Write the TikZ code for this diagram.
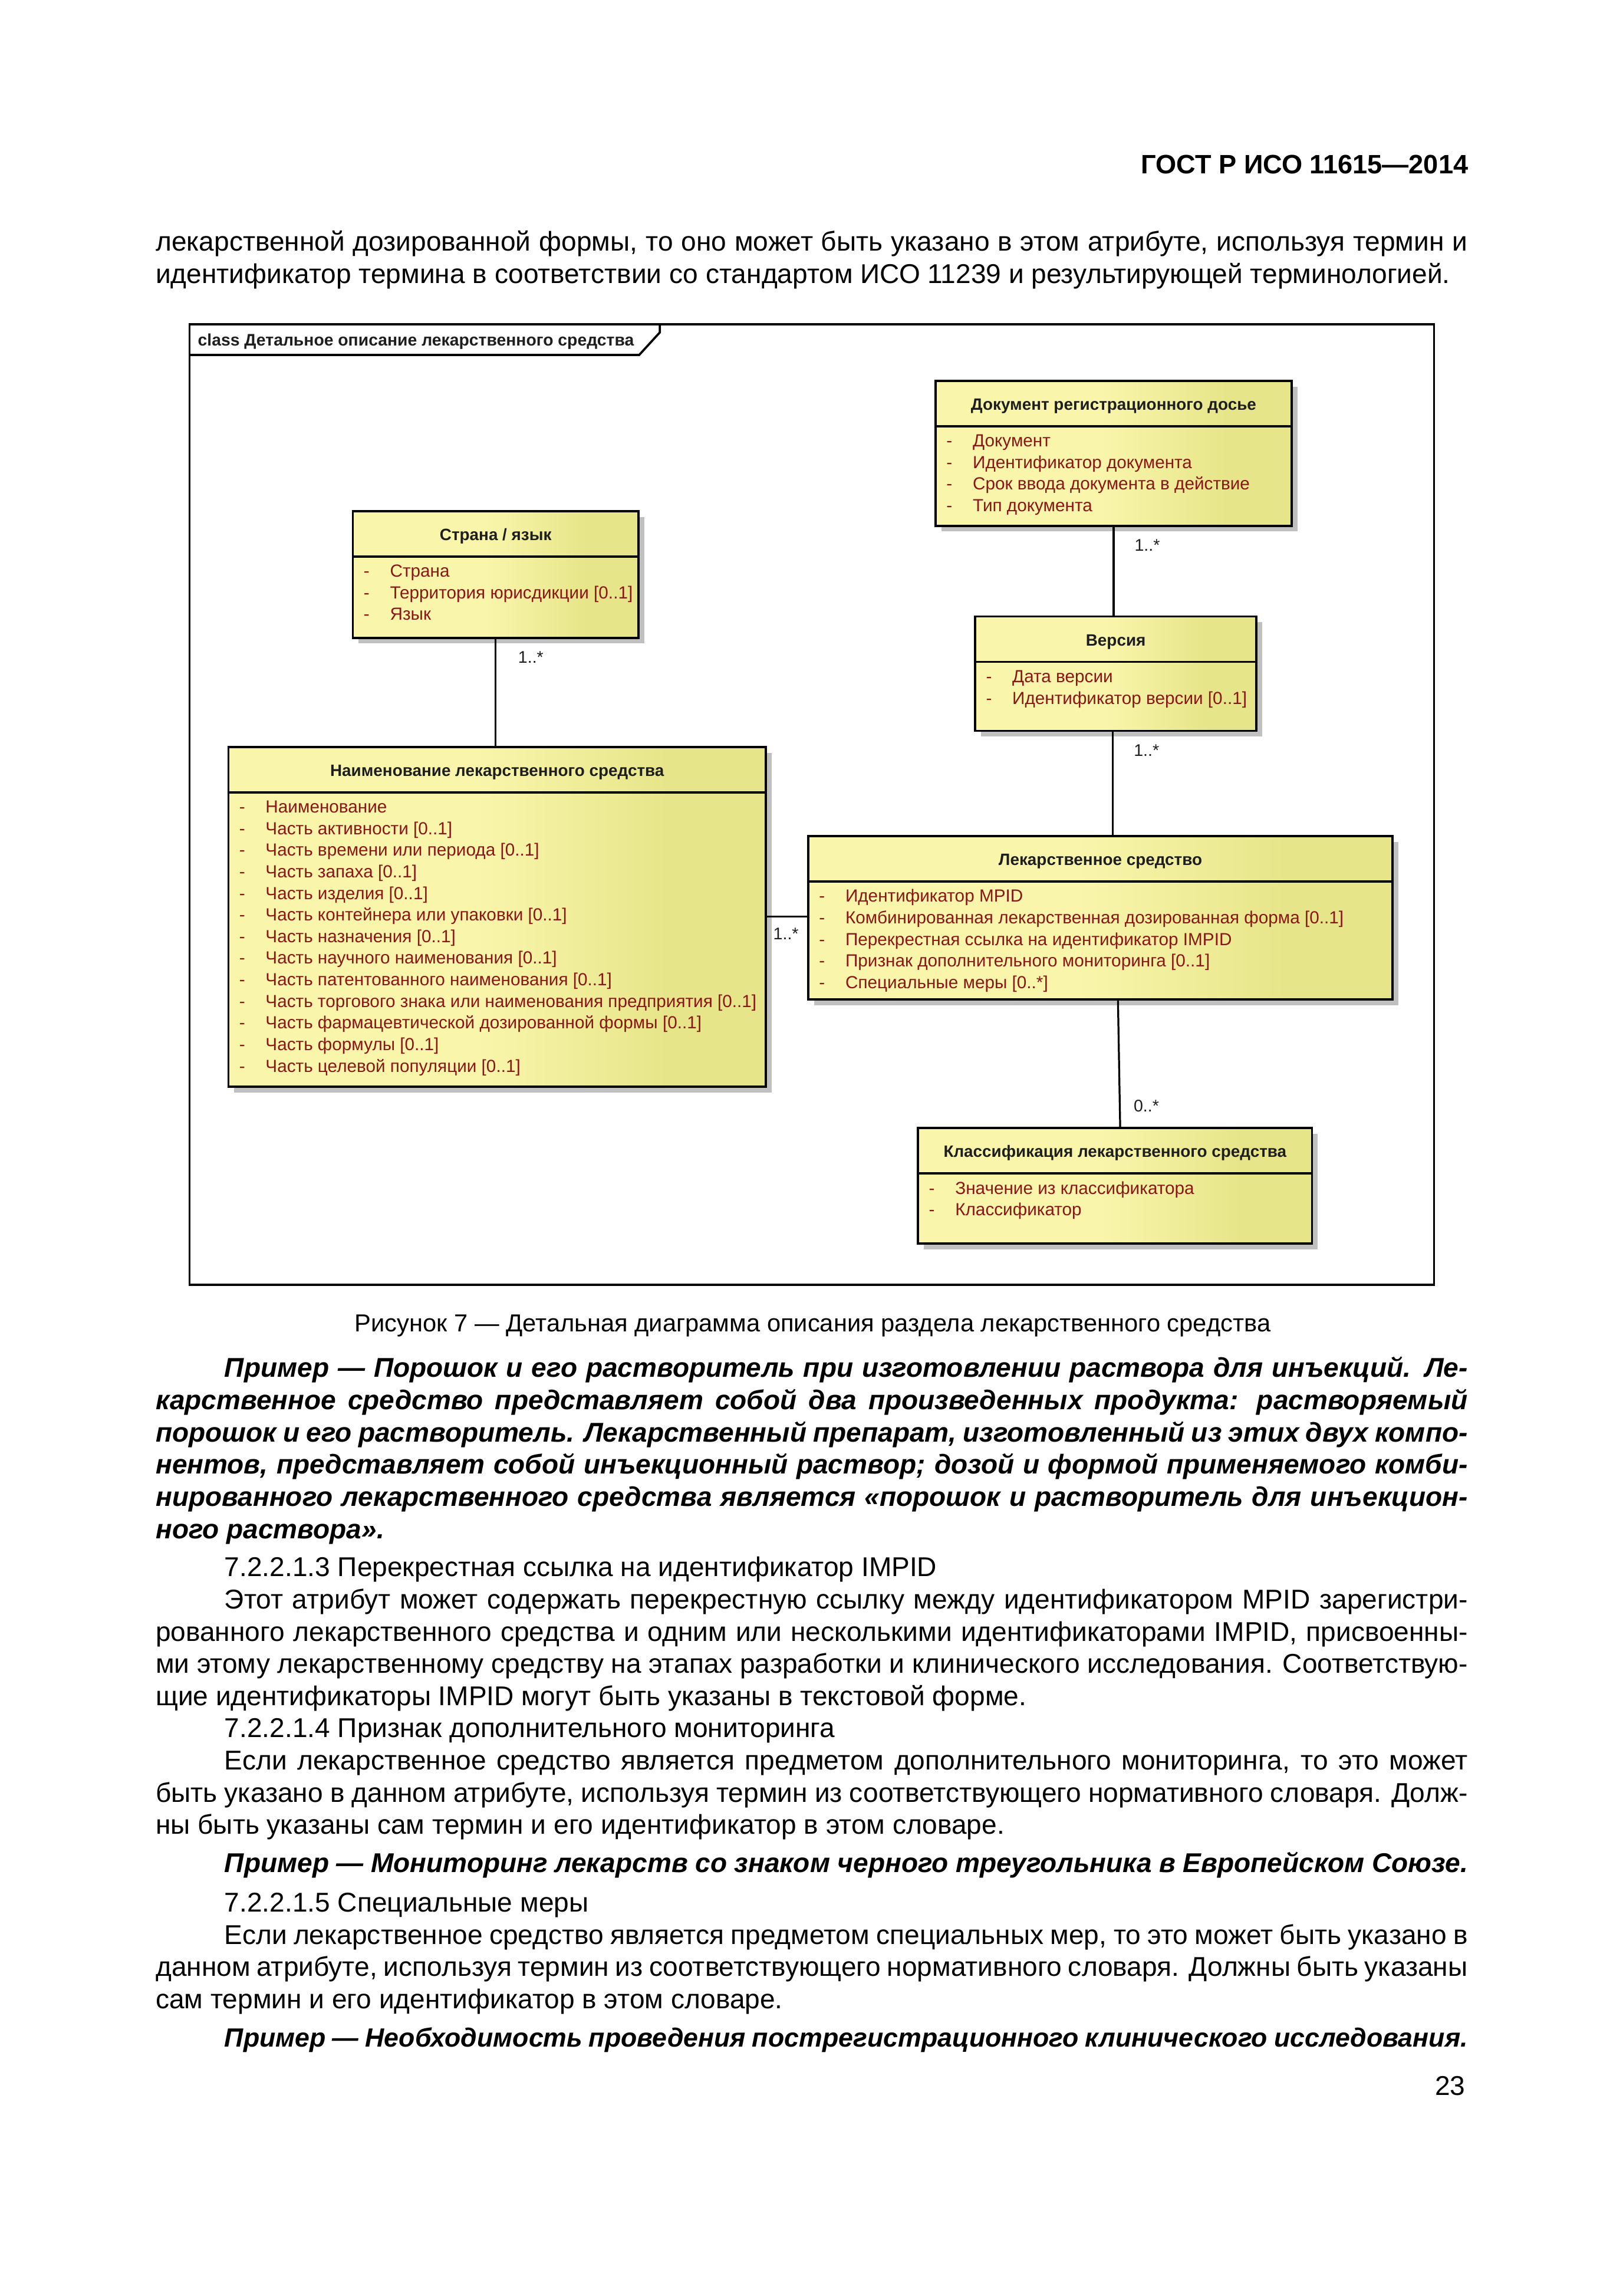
\documentclass[tikz,border=0pt]{standalone}
\usepackage{fontspec}
\setmainfont{Liberation Sans}
\usetikzlibrary{calc,fit,shadows}

\definecolor{umlLight}{RGB}{249,246,172}
\definecolor{umlDark}{RGB}{231,229,137}
\definecolor{attrRed}{RGB}{138,22,22}
\definecolor{shadowGray}{RGB}{192,192,192}
\definecolor{inkBlack}{RGB}{30,30,30}

\pgfdeclarehorizontalshading{umlfill}{100bp}{color(0bp)=(umlLight); color(25bp)=(umlLight); color(48bp)=(umlLight); color(66bp)=(umlDark); color(75bp)=(umlDark); color(100bp)=(umlDark)}

\tikzset{
	umlbox/.style={draw=black, line width=0.8pt, shade, shading=umlfill, inner sep=0pt,
		drop shadow={shadow xshift=0.075cm, shadow yshift=-0.075cm, fill=shadowGray, opacity=1}},
	umlline/.style={line width=0.8pt},
	assoc/.style={line width=0.7pt},
	ctitle/.style={anchor=base, inner sep=0pt, text=inkBlack, font=\fontsize{6.05}{7}\selectfont\bfseries},
	cattr/.style={anchor=base west, inner sep=0pt, text=attrRed, font=\fontsize{6.45}{7}\selectfont},
	mult/.style={anchor=base west, inner sep=0pt, text=inkBlack, font=\fontsize{6.2}{7}\selectfont},
	ftitle/.style={anchor=base west, inner sep=0pt, text=inkBlack, font=\fontsize{6.15}{7}\selectfont\bfseries},
	body/.style={anchor=base west, inner sep=0pt, text=black, font=\fontsize{10}{12}\selectfont},
	exmp/.style={body, font=\fontsize{10}{12}\selectfont\bfseries\itshape},
	head/.style={anchor=base east, inner sep=0pt, text=black, font=\fontsize{9.8}{12}\selectfont\bfseries}
}

% class box: (name)(x1,y1)(x2,y2){title}{attributes}
\def\umlclass(#1)(#2,#3)(#4,#5)#6#7{%
	\node[umlbox, fit={(#2,#3) (#4,#5)}] (#1) {};
	\draw[umlline] (#2,#3+31) -- (#4,#3+31);
	\node[ctitle] (#1-t) at ({(#2+#4)/2},#3+20) {#6};
	\foreach \a [count=\i] in {#7} {
		\node[cattr] (#1-d\i) at (#2+7, {#3+45+(\i-1)*14.75}) {-};
		\node[cattr] (#1-a\i) at (#2+25, {#3+45+(\i-1)*14.75}) {\a};
	}
}
\def\jfull#1{\makebox[16.98cm][s]{#1}}
\def\jind#1{\makebox[16.09cm][s]{#1}}

\begin{document}
\begin{tikzpicture}[x=0.01895cm, y=-0.01895cm]
			%%%%% START %%%%%
			
			\fill[white] (0,0) rectangle (1108.3,1567.8);
			\useasboundingbox (0,0) rectangle (1108.3,1567.8);
			
			\node[head] (hdr) at (1003,118.5) {ГОСТ Р ИСО 11615—2014};
			\node[body] (p1) at (106,171.5) {\jfull{лекарственной дозированной формы, то оно может быть указано в этом атрибуте, используя термин и}};
			\node[body] (p2) at (106,193.5) {идентификатор термина в соответствии со стандартом ИСО 11239 и результирующей терминологией.};
			
			%%%%% FRAME %%%%%
			\draw[umlline] (129.4,221.4) rectangle (979.3,877.4);
			\draw[umlline] (129.4,242.4) -- (436.5,242.4) -- (450.6,227) -- (450.6,221.4);
			\node[ftitle] (frame-t) at (134.8,236) {class Детальное описание лекарственного средства};
			
			%%%%% CLASSES %%%%%
			\umlclass(doc)(639,260)(882,359){Документ регистрационного досье}{Документ, Идентификатор документа, Срок ввода документа в действие, Тип документа}
			\umlclass(strana)(241,349)(436,435.5){Страна / язык}{Страна, Территория юрисдикции [0..1], Язык}
			\umlclass(ver)(666,421)(858,499){Версия}{Дата версии, Идентификатор версии [0..1]}
			\umlclass(naim)(156,510)(523,742){Наименование лекарственного средства}{Наименование, Часть активности [0..1], Часть времени или периода [0..1], Часть запаха [0..1], Часть изделия [0..1], Часть контейнера или упаковки [0..1], Часть назначения [0..1], Часть научного наименования [0..1], Часть патентованного наименования [0..1], Часть торгового знака или наименования предприятия [0..1], Часть фармацевтической дозированной формы [0..1], Часть формулы [0..1], Часть целевой популяции [0..1]}
			\umlclass(lek)(552,571)(951,682.5){Лекарственное средство}{Идентификатор MPID, Комбинированная лекарственная дозированная форма [0..1], Перекрестная ссылка на идентификатор IMPID, Признак дополнительного мониторинга [0..1], Специальные меры [0..*]}
			\umlclass(klass)(627,770.3)(896,849){Классификация лекарственного средства}{Значение из классификатора, Классификатор}
			
			%%%%% ASSOCIATIONS %%%%%
			\draw[assoc] (strana.south) -- (strana.south |- naim.north);
			\node[mult] (m1) at ($(strana.south)+(15,16.5)$) {1..*};
			
			\draw[assoc] (doc.south) -- (doc.south |- ver.north);
			\node[mult] (m2) at ($(doc.south)+(14,16.5)$) {1..*};
			
			\coordinate (vbot) at ($(ver.south)+(-2,0)$);
			\draw[assoc] (vbot) -- (vbot |- lek.north);
			\node[mult] (m3) at ($(ver.south)+(12,16.5)$) {1..*};
			
			\draw[assoc] (naim.east) -- (naim.east -| lek.west);
			\node[mult] (m4) at ($(naim.east)+(4,15.5)$) {1..*};
			
			\coordinate (lbot) at ($(lek.south)+(12,0)$);
			\coordinate (ktop) at ($(klass.north)+(3.5,0)$);
			\draw[assoc] (lbot) -- (ktop);
			\node[mult] (m5) at ($(klass.north)+(12.4,-10.6)$) {0..*};
			
			%%%%% TEXT %%%%%
			\node[body, anchor=base, font=\fontsize{9.05}{11}\selectfont] (cap) at (555,909.5) {Рисунок 7 — Детальная диаграмма описания раздела лекарственного средства};
			
			\node[exmp] (e1) at (153,940.5) {\jind{Пример — Порошок и его растворитель при изготовлении раствора для инъекций. Ле-}};
			\node[exmp] (e2) at (106,962.5) {\jfull{карственное средство представляет собой два произведенных продукта: растворяемый}};
			\node[exmp] (e3) at (106,984.5) {\jfull{порошок и его растворитель. Лекарственный препарат, изготовленный из этих двух компо-}};
			\node[exmp] (e4) at (106,1006.5) {\jfull{нентов, представляет собой инъекционный раствор; дозой и формой применяемого комби-}};
			\node[exmp] (e5) at (106,1028.5) {\jfull{нированного лекарственного средства является «порошок и растворитель для инъекцион-}};
			\node[exmp] (e6) at (106,1050.5) {ного раствора».};
			
			\node[body] (h1) at (153,1076.5) {7.2.2.1.3 Перекрестная ссылка на идентификатор IMPID};
			\node[body] (b1) at (153,1098.5) {\jind{Этот атрибут может содержать перекрестную ссылку между идентификатором MPID зарегистри-}};
			\node[body] (b2) at (106,1120.5) {\jfull{рованного лекарственного средства и одним или несколькими идентификаторами IMPID, присвоенны-}};
			\node[body] (b3) at (106,1142.5) {\jfull{ми этому лекарственному средству на этапах разработки и клинического исследования. Соответствую-}};
			\node[body] (b4) at (106,1164.5) {щие идентификаторы IMPID могут быть указаны в текстовой форме.};
			
			\node[body] (h2) at (153,1186.5) {7.2.2.1.4 Признак дополнительного мониторинга};
			\node[body] (b5) at (153,1208.5) {\jind{Если лекарственное средство является предметом дополнительного мониторинга, то это может}};
			\node[body] (b6) at (106,1230.5) {\jfull{быть указано в данном атрибуте, используя термин из соответствующего нормативного словаря. Долж-}};
			\node[body] (b7) at (106,1252.5) {ны быть указаны сам термин и его идентификатор в этом словаре.};
			\node[exmp] (e7) at (153,1278.5) {\jind{Пример — Мониторинг лекарств со знаком черного треугольника в Европейском Союзе.}};
			
			\node[body] (h3) at (153,1305.5) {7.2.2.1.5 Специальные меры};
			\node[body] (b8) at (153,1327.5) {\jind{Если лекарственное средство является предметом специальных мер, то это может быть указано в}};
			\node[body] (b9) at (106,1349.5) {\jfull{данном атрибуте, используя термин из соответствующего нормативного словаря. Должны быть указаны}};
			\node[body] (b10) at (106,1371.5) {сам термин и его идентификатор в этом словаре.};
			\node[exmp, font=\fontsize{9.7}{12}\selectfont\bfseries\itshape] (e8) at (153,1397.5) {\jind{Пример — Необходимость проведения пострегистрационного клинического исследования.}};
			
			\node[body, anchor=base east] (pg) at (1001,1430.5) {23};
			
			%%%%% END %%%%%
\end{tikzpicture}
\end{document}
